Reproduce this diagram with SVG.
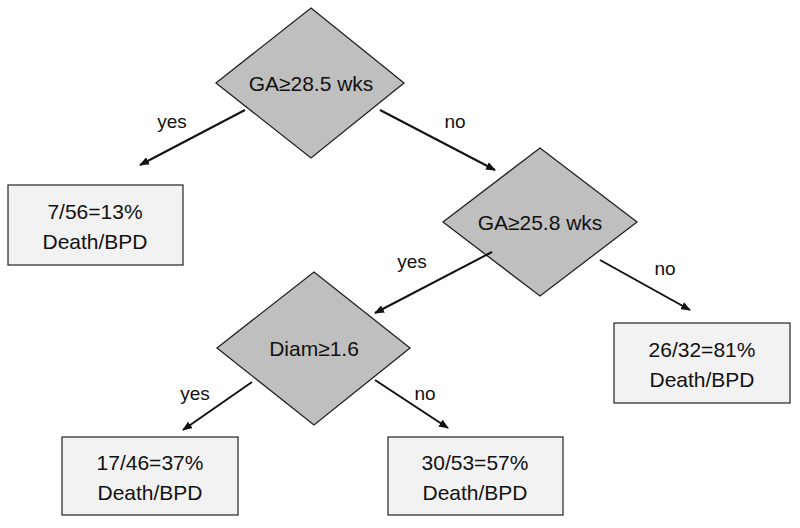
<svg xmlns="http://www.w3.org/2000/svg" width="800" height="528" viewBox="0 0 800 528">
<style>
.d{fill:#bfbfbf;stroke:#222;stroke-width:1.3}
.b{fill:#f2f2f2;stroke:#333;stroke-width:1.3}
text{font-family:"Liberation Sans",Arial,sans-serif;font-size:21px;fill:#111;text-anchor:middle}
.c line{stroke:#111;stroke-width:2;marker-end:url(#a)}
</style>
<defs><marker id="a" markerWidth="10" markerHeight="8" refX="9" refY="4" orient="auto" markerUnits="userSpaceOnUse"><path d="M0,0L10,4L0,8z" fill="#111"/></marker></defs>
<rect width="800" height="528" fill="#fff"/>
<g id="n1"><polygon class="d" points="311,8 404,83 311,158 216,83"/><text x="311" y="91">GA≥28.5 wks</text></g>
<g id="n2"><polygon class="d" points="540,148 637,222 540,296 443,222"/><text x="540" y="230">GA≥25.8 wks</text></g>
<g id="n3"><polygon class="d" points="314,272 410,348 314,425 217,348"/><text x="314" y="356">Diam≥1.6</text></g>
<g id="l1"><rect class="b" x="8" y="185" width="175" height="80"/><text x="95" y="219">7/56=13%</text><text x="95" y="249">Death/BPD</text></g>
<g id="l2"><rect class="b" x="614" y="323" width="176" height="80"/><text x="702" y="357">26/32=81%</text><text x="702" y="387">Death/BPD</text></g>
<g id="l3"><rect class="b" x="62" y="437" width="176" height="78"/><text x="150" y="470">17/46=37%</text><text x="150" y="500">Death/BPD</text></g>
<g id="l4"><rect class="b" x="388" y="437" width="175" height="78"/><text x="475" y="470">30/53=57%</text><text x="475" y="500">Death/BPD</text></g>
<g class="c" id="edges">
<line x1="245" y1="110" x2="140" y2="165"/>
<line x1="380" y1="110" x2="495" y2="170"/>
<line x1="492" y1="252" x2="375" y2="313"/>
<line x1="600" y1="260" x2="690" y2="310"/>
<line x1="252" y1="382" x2="183" y2="430"/>
<line x1="375" y1="380" x2="448" y2="428"/>
<text x="172" y="128" style="font-size:19px">yes</text>
<text x="455" y="128" style="font-size:19px">no</text>
<text x="412" y="268" style="font-size:19px">yes</text>
<text x="665" y="275" style="font-size:19px">no</text>
<text x="195" y="400" style="font-size:19px">yes</text>
<text x="425" y="400" style="font-size:19px">no</text>
</g>
</svg>
